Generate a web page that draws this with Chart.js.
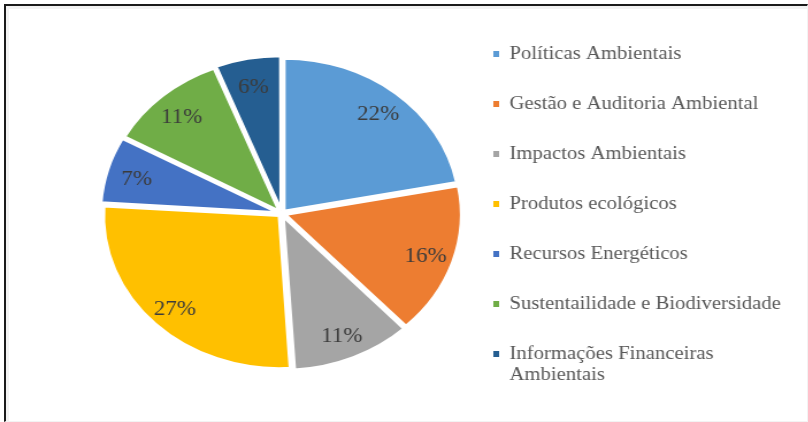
<!DOCTYPE html>
<html>
<head>
<meta charset="utf-8">
<script src="https://cdn.jsdelivr.net/npm/chart.js@4.4.0/dist/chart.umd.min.js"></script>
<style>
    html, body { margin: 0; padding: 0; background: #fff; }
    body { width: 808px; height: 422px; position: relative; overflow: hidden; }
    .frame {
        position: absolute; left: 4px; top: 4px; width: 801px; height: 415px;
        border-left: 2px solid #1a1a1a; border-top: 2px solid #1a1a1a;
        border-right: 1px solid #f3f3f3; border-bottom: 1px solid #f3f3f3;
        box-shadow: inset 3px 3px 0 #f2f2f2;
    }
    /* o gráfico original está esticado na horizontal */
    .wrap {
        position: absolute; left: 0; top: 0; width: 703px; height: 422px;
        transform: scaleX(1.15); transform-origin: 0 0;
    }
</style>
</head>
<body>
<div class="frame"></div>
<div class="wrap"><canvas id="pieChart"></canvas></div>
<script>
// Dados do gráfico
const categorias = [
    'Políticas Ambientais',
    'Gestão e Auditoria Ambiental',
    'Impactos Ambientais',
    'Produtos ecológicos',
    'Recursos Energéticos',
    'Sustentailidade e Biodiversidade',
    ['Informações Financeiras', 'Ambientais']
];
const percentuais = [22, 16, 11, 27, 7, 11, 6];
const cores = ['#5B9BD5', '#ED7D31', '#A5A5A5', '#FFC000', '#4472C4', '#70AD47', '#255E91'];

const fonte = "'Liberation Serif', 'Times New Roman', serif";

// Rótulos de porcentagem dentro das fatias
const rotulosFatias = {
    id: 'rotulosFatias',
    afterDatasetsDraw(chart) {
        const ctx = chart.ctx;
        const meta = chart.getDatasetMeta(0);
        ctx.save();
        ctx.font = '20px ' + fonte;
        ctx.fillStyle = '#3b3b3b';
        ctx.textAlign = 'center';
        ctx.textBaseline = 'middle';
        meta.data.forEach((arc, i) => {
            const p = arc.getProps(['x', 'y', 'startAngle', 'endAngle', 'outerRadius']);
            const meio = (p.startAngle + p.endAngle) / 2;
            const dist = (arc.options.offset || 0) / 2 + p.outerRadius * 0.82;
            ctx.fillText(percentuais[i] + '%', p.x + Math.cos(meio) * dist, p.y + 3 + Math.sin(meio) * dist);
        });
        ctx.restore();
    }
};

const ctx = document.getElementById('pieChart').getContext('2d');
new Chart(ctx, {
    type: 'pie',
    data: {
        labels: categorias,
        datasets: [{
            data: percentuais,
            backgroundColor: cores,
            borderColor: '#ffffff',
            borderWidth: 3,
            offset: 12,
            hoverOffset: 0
        }]
    },
    options: {
        responsive: true,
        maintainAspectRatio: false,
        animation: false,
        radius: 153,
        layout: {
            padding: { top: 13, bottom: 8, left: 93, right: 0 }
        },
        plugins: {
            tooltip: { enabled: false },
            legend: {
                position: 'right',
                align: 'start',
                maxWidth: 306,
                labels: {
                    boxWidth: 5,
                    boxHeight: 6,
                    padding: 32,
                    color: '#595959',
                    font: { family: fonte, size: 18 },
                    // quadradinhos sem a borda branca das fatias
                    generateLabels(chart) {
                        const itens = Chart.overrides.pie.plugins.legend.labels.generateLabels(chart);
                        itens.forEach(item => { item.lineWidth = 0; item.strokeStyle = item.fillStyle; });
                        return itens;
                    }
                }
            }
        }
    },
    plugins: [rotulosFatias]
});
</script>
</body>
</html>
